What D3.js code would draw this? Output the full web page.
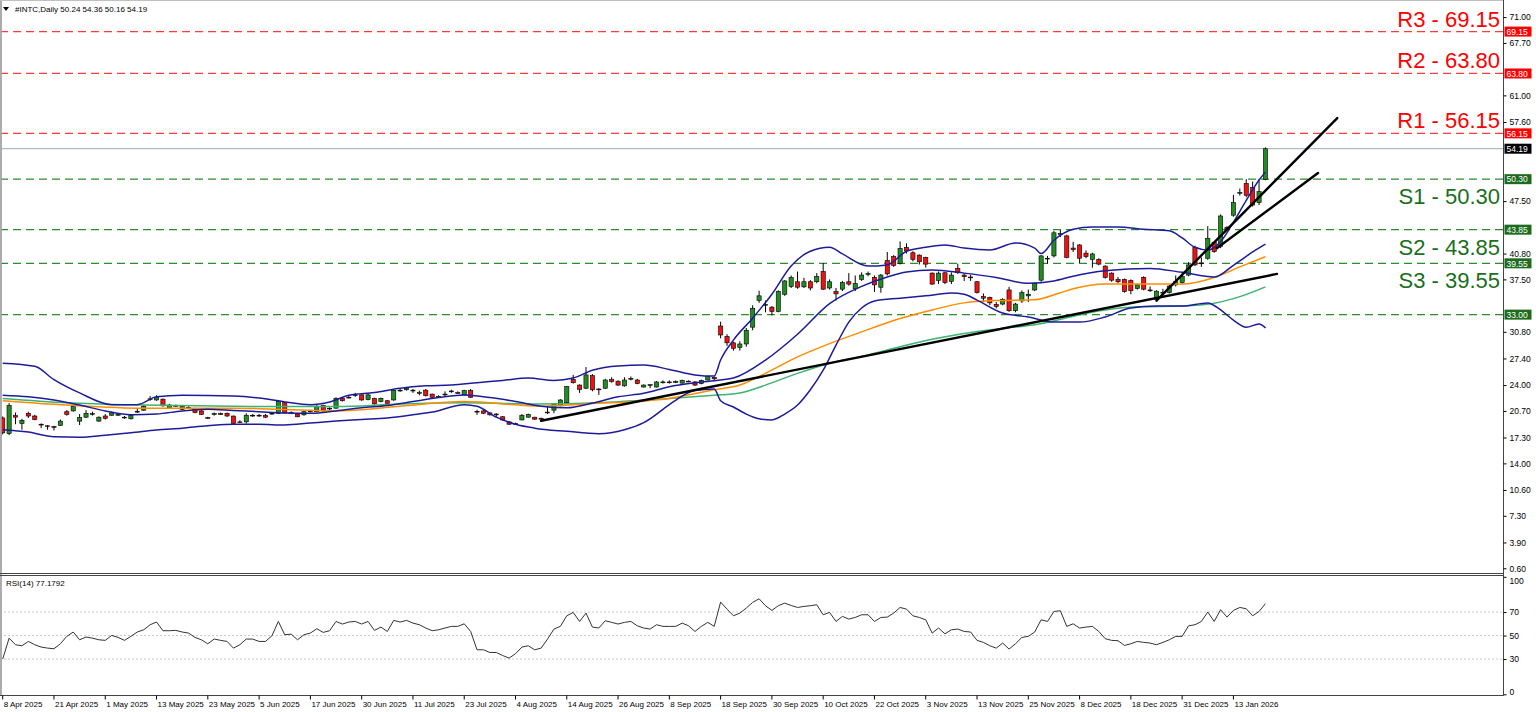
<!DOCTYPE html>
<html><head><meta charset="utf-8">
<script src="https://cdn.jsdelivr.net/npm/d3@7/dist/d3.min.js"></script>
<style>
body{margin:0;background:#fff;}
svg{display:block;}
text{font-family:"Liberation Sans",Arial,sans-serif;}
</style>
</head><body>
<svg id="chart" width="1536" height="712"></svg>
<script>
// ---------------- DATA ----------------
const symbolTitle = "#INTC,Daily";
const lastOHLC = [50.24, 54.36, 50.16, 54.19];
const rsiTitle = "RSI(14) 77.1792";

const xLabels = ["8 Apr 2025","21 Apr 2025","1 May 2025","13 May 2025","23 May 2025","5 Jun 2025","17 Jun 2025","30 Jun 2025","11 Jul 2025","23 Jul 2025","4 Aug 2025","14 Aug 2025","26 Aug 2025","8 Sep 2025","18 Sep 2025","30 Sep 2025","10 Oct 2025","22 Oct 2025","3 Nov 2025","13 Nov 2025","25 Nov 2025","8 Dec 2025","18 Dec 2025","31 Dec 2025","13 Jan 2026"];
const barsPerLabel = 8;

const opens = [19.8,17.8,20.1,19.1,20.4,20.05,19.0,18.8,18.7,18.85,20.6,20.7,19.4,19.9,20.3,19.4,20.05,20.15,20.2,19.85,
19.7,20.6,20.8,22.2,22.1,22.2,21.05,21.4,20.9,21.15,21.0,20.7,19.85,20.3,20.35,20.4,20.05,19.3,19.3,20.1,
20.15,20.15,20.3,20.4,21.75,20.5,20.3,20.2,20.6,20.6,21.4,21.0,21.05,22.3,22.45,22.7,22.75,22.15,22.3,21.9,
22.0,22.1,23.3,23.4,23.3,23.0,23.35,22.85,22.5,22.8,23.2,23.05,22.75,23.3,20.65,20.7,20.45,20.3,19.95,19.3,
19.05,19.55,19.9,19.9,19.75,20.5,20.8,21.35,21.75,24.7,24.0,23.6,25.2,23.5,23.6,24.7,24.5,23.9,24.75,24.65,
23.75,24.0,23.75,24.35,24.4,24.4,24.25,24.5,24.4,24.2,24.65,25.0,31.55,30.2,29.4,28.8,29.25,31.4,34.8,34.2,
33.95,33.4,35.6,36.6,37.2,36.55,37.2,37.2,38.5,36.4,35.95,36.25,37.2,36.3,37.5,38.2,37.75,36.5,39.9,40.4,
39.55,41.6,40.9,40.6,40.3,38.3,37.35,38.35,37.25,38.9,38.05,37.8,37.2,35.3,35.2,34.3,34.35,36.15,33.5,34.75,
35.4,36.15,37.4,40.1,40.5,43.3,43.05,41.5,41.9,40.85,40.05,40.05,39.2,38.3,37.5,37.5,37.35,36.35,37.75,36.15,
34.95,35.8,35.8,36.8,37.1,38.05,41.6,39.5,40.2,42.2,41.7,44.15,45.7,48.5,49.75,49.25,47.3,50.24];
const highs = [20.0,21.7,20.5,19.7,20.6,20.2,19.1,18.9,18.8,19.6,20.8,21.4,20.3,20.8,20.6,20.0,20.3,20.6,20.35,20.05,
20.2,21.05,21.45,22.6,22.7,22.3,21.6,21.5,21.4,21.3,21.1,20.8,19.95,20.5,20.5,20.5,20.1,19.5,20.4,20.3,
20.3,20.3,20.5,22.0,21.85,20.65,20.4,20.7,20.85,21.45,21.5,21.15,22.45,22.45,22.6,23.0,22.85,22.9,22.4,22.4,
22.1,23.4,23.5,23.7,23.5,23.3,23.5,22.9,22.7,23.2,23.4,23.2,23.4,23.5,20.85,20.8,20.5,20.4,20.05,19.4,
19.2,20.3,20.35,19.95,19.85,21.2,21.6,22.2,23.9,25.3,24.1,26.3,25.4,23.6,24.8,25.0,24.6,25.0,25.1,24.8,
24.1,24.1,24.5,24.6,24.6,24.6,24.7,24.6,24.5,24.7,25.2,25.1,32.1,30.5,29.55,29.6,31.3,34.2,36.05,34.8,
34.1,36.1,37.4,38.0,38.5,37.7,37.4,38.3,39.6,37.5,36.4,37.3,38.3,38.0,38.4,38.5,38.0,38.2,41.0,40.6,
42.35,42.1,41.1,40.7,40.4,38.4,38.5,38.4,38.4,39.5,38.3,38.1,37.3,35.7,35.3,34.6,35.1,36.55,34.5,36.1,
36.2,37.1,40.6,40.5,43.7,43.8,43.2,42.3,42.0,41.2,40.9,40.2,39.3,38.4,37.8,37.6,37.5,36.9,37.9,36.6,
36.1,36.3,36.8,38.0,38.2,39.7,41.8,40.3,44.3,42.3,45.8,44.3,48.3,49.1,50.3,50.0,50.3,54.36];
const lows = [17.7,17.6,19.0,18.3,19.8,19.5,18.5,18.3,18.2,18.8,20.1,20.6,18.9,19.8,20.1,19.3,19.6,20.1,20.1,19.7,
19.6,20.45,20.7,22.0,22.0,21.25,20.95,21.2,20.8,21.0,20.4,20.2,19.7,20.1,20.2,19.95,19.0,19.2,19.1,19.95,
19.95,19.8,20.2,20.3,20.4,20.3,19.9,20.1,20.5,20.5,20.6,20.75,21.0,21.9,22.3,22.5,22.0,22.05,21.5,21.8,
21.55,22.0,23.15,23.3,23.0,22.7,22.55,22.35,22.4,22.6,23.0,22.9,22.7,22.35,20.2,20.3,20.1,19.9,19.45,18.95,
18.95,19.5,19.85,19.55,19.3,20.3,20.4,21.3,21.7,24.2,23.0,23.5,23.2,22.75,23.5,24.3,23.9,23.8,24.6,24.1,
23.7,23.6,23.7,24.2,24.2,24.25,24.2,24.4,23.9,24.1,24.6,24.65,29.97,29.0,28.4,28.4,28.9,31.0,34.5,33.3,
32.9,33.3,35.4,36.4,36.3,36.4,36.1,37.0,36.15,36.2,34.8,36.0,36.7,36.0,37.3,37.9,35.9,35.8,38.0,39.1,
39.4,40.8,39.8,39.4,39.0,36.8,36.9,36.9,36.9,38.2,37.3,37.3,35.7,34.6,34.2,33.8,34.2,33.35,33.3,34.5,
34.6,36.0,37.2,39.5,40.3,42.9,40.2,41.0,39.6,40.2,39.0,39.3,37.6,37.2,37.0,35.8,35.6,36.2,36.1,35.9,
34.9,35.5,35.7,36.6,36.9,37.9,39.2,39.1,40.0,40.9,41.5,43.8,45.5,48.2,48.0,46.8,47.0,50.16];
const closes = [17.9,21.4,19.9,19.5,20.05,19.6,18.9,18.7,18.6,19.4,20.25,21.25,19.85,20.4,20.35,19.9,19.75,20.45,20.25,19.9,
20.15,20.65,21.3,22.25,22.45,21.35,21.45,21.35,21.3,21.1,20.5,20.25,19.8,20.35,20.3,20.05,19.1,19.25,20.15,20.15,
20.1,19.9,20.4,21.9,20.45,20.45,19.95,20.6,20.7,21.3,20.7,21.05,22.3,22.0,22.4,22.75,22.1,22.75,21.6,22.3,
21.65,23.3,23.35,23.6,23.35,23.05,22.65,22.45,22.55,22.85,23.25,23.0,23.3,22.45,20.6,20.4,20.2,20.25,19.55,19.0,
19.1,20.15,20.25,19.65,19.7,20.55,21.6,22.1,23.8,24.3,23.45,25.3,23.4,23.45,24.65,24.45,24.0,24.65,24.85,24.2,
24.0,24.05,24.4,24.4,24.35,24.45,24.6,24.45,24.0,24.6,25.1,24.8,30.4,29.4,28.7,29.25,31.0,33.8,35.4,34.3,
33.4,35.95,37.3,37.75,36.5,37.2,36.4,37.85,36.25,37.2,35.65,37.1,36.9,36.95,38.05,38.25,36.8,38.05,38.2,39.3,
41.45,41.15,40.05,39.75,39.45,36.9,38.3,37.1,38.05,38.35,37.85,37.75,35.8,35.1,34.5,34.05,34.95,33.5,34.35,35.8,
35.6,37.0,40.5,40.2,43.45,43.35,40.3,41.3,40.2,40.4,40.75,39.45,37.75,37.4,37.2,35.95,36.05,36.8,36.25,36.1,
36.0,35.85,36.65,37.2,37.9,39.35,39.35,39.6,42.75,41.05,45.6,43.9,47.3,48.6,48.25,47.0,48.7,54.19];

const rsiValues = [30.0,47.8,42.2,41.3,45.0,42.2,40.2,39.3,38.8,43.0,49.3,53.0,46.4,48.7,47.8,46.4,45.9,50.1,48.4,45.9,
49.3,53.0,54.9,59.2,61.5,54.1,54.1,54.4,53.0,52.1,48.4,46.4,43.0,47.0,45.9,45.0,39.3,42.2,47.0,47.0,
45.0,45.0,49.8,62.0,50.7,51.2,46.4,50.7,52.1,55.8,52.7,54.1,62.0,59.8,61.5,62.0,59.8,62.0,54.4,57.2,
53.5,62.9,61.5,62.9,60.6,59.2,56.4,54.1,54.9,56.4,57.8,57.8,60.0,53.5,37.9,37.9,35.6,35.6,33.0,30.8,
34.5,40.2,41.3,37.9,39.3,47.0,55.5,57.8,66.8,69.7,62.0,69.1,57.2,56.4,62.6,61.2,59.8,61.2,62.0,58.3,
56.4,55.5,59.2,57.8,57.8,57.8,60.6,58.3,53.5,57.8,61.2,57.8,78.5,72.5,66.8,69.1,73.4,78.2,81.3,75.4,
71.4,75.4,77.6,75.6,73.9,74.8,75.4,76.2,67.7,69.7,62.0,66.3,64.0,65.4,67.7,67.7,62.0,65.4,65.7,69.1,
73.9,72.5,66.8,65.4,63.4,52.1,56.4,51.5,54.9,55.5,53.5,53.0,45.9,44.2,41.3,39.3,43.6,38.5,43.0,48.4,
49.3,53.0,63.4,62.0,70.5,71.1,57.8,60.0,56.4,57.2,57.8,53.5,47.3,45.9,45.6,41.6,43.0,45.0,44.2,43.6,
42.2,44.2,46.4,49.3,49.3,58.3,59.2,62.0,70.0,62.0,72.0,65.7,71.4,73.9,72.8,66.8,70.5,77.18];

// indicator readings: [bar index, price]
const bbUpper = [[0,26.8],[5,26.4],[8,24.7],[12,23.0],[17,21.5],[21,21.5],[24,22.5],[28,22.7],[36,22.6],[40,22.35],[44,21.85],[48,21.5],[51,21.85],[54,22.7],[58,23.05],[62,23.6],[66,23.9],[70,24.0],[74,24.3],[78,24.6],[82,24.9],[86,24.6],[89,24.9],[92,25.9],[96,26.45],[100,26.55],[104,26.0],[108,25.3],[111,25.15],[112,27.2],[114,29.75],[117,32.55],[120,35.6],[123,39.2],[126,41.1],[129,41.6],[131,40.75],[135,39.2],[138,39.35],[141,41.1],[144,41.6],[147,41.9],[150,41.5],[154,41.25],[158,42.15],[161,41.5],[162,40.8],[164,42.5],[167,43.9],[170,44.2],[174,44.2],[178,43.9],[182,43.7],[184,42.8],[186,41.6],[188,41.25],[190,42.3],[192,44.8],[194,47.6],[196,50.2],[197,51.2]];
const bbMiddle = [[0,22.7],[4,22.5],[8,22.1],[12,21.45],[16,20.7],[20,20.2],[24,20.3],[28,20.7],[32,20.9],[36,20.75],[40,20.6],[44,20.45],[48,20.4],[52,20.7],[56,21.1],[60,21.4],[64,21.9],[68,22.4],[72,22.75],[76,22.4],[80,21.9],[84,21.3],[88,21.1],[92,21.7],[96,22.5],[100,22.95],[104,23.8],[108,24.3],[112,24.65],[114,24.9],[119,27.2],[124,30.5],[129,34.4],[134,36.6],[138,37.8],[141,38.45],[145,38.7],[150,38.3],[155,37.75],[160,37.0],[164,37.3],[167,37.9],[172,38.6],[179,38.9],[184,38.4],[189,37.8],[192,39.3],[195,41.0],[197,42.0]];
const bbLower = [[0,18.3],[4,18.0],[8,17.4],[12,17.35],[16,17.6],[20,17.9],[24,18.25],[28,18.5],[32,18.8],[36,19.0],[40,19.0],[44,18.9],[48,19.15],[52,19.4],[56,19.6],[60,19.8],[64,20.2],[67,20.55],[72,21.5],[74,21.3],[77,19.9],[80,19.0],[83,18.5],[88,18.1],[93,17.8],[97,18.3],[100,19.2],[104,21.5],[106,22.6],[108,23.3],[111,23.5],[112,22.0],[114,21.2],[116,20.3],[118,19.7],[120,19.55],[122,20.3],[124,21.45],[126,23.4],[128,25.9],[130,29.1],[132,32.05],[134,33.85],[136,34.75],[140,35.1],[144,35.4],[148,35.75],[150,35.6],[152,34.85],[156,33.2],[160,32.7],[164,32.05],[168,32.05],[172,32.7],[176,33.85],[180,34.1],[184,34.1],[188,34.5],[190,33.6],[192,32.3],[194,31.4],[196,31.8],[197,31.3]];
const maOrange = [[0,22.0],[10,21.45],[22,21.05],[36,21.05],[52,20.7],[62,21.3],[72,21.9],[84,21.3],[91,21.6],[104,22.3],[111,23.4],[115,24.0],[119,25.5],[124,27.6],[129,29.3],[134,30.8],[140,32.5],[145,33.6],[150,34.5],[155,34.8],[161,34.9],[165,35.8],[167,36.3],[172,36.9],[178,36.9],[184,36.9],[189,37.75],[193,39.1],[197,40.4]];
const maGreen = [[0,22.3],[10,21.75],[22,21.45],[36,21.3],[44,21.25],[52,21.25],[62,21.6],[72,21.75],[83,21.6],[93,21.75],[104,22.3],[111,22.7],[115,23.0],[119,24.0],[124,25.5],[129,26.8],[135,27.85],[140,28.9],[145,29.85],[150,30.6],[156,31.25],[161,31.7],[165,32.4],[167,32.8],[172,33.6],[177,34.0],[184,34.1],[189,34.45],[193,35.3],[197,36.55]];

const trendLines = [
  [[84,19.45],[198.8,38.2]],
  [[180.0,34.78],[208.2,58.1]],
  [[189.4,41.47],[205.2,51.09]]
];

const resistances = [{name:"R3",value:69.15},{name:"R2",value:63.80},{name:"R1",value:56.15}];
const supports = [{name:"S1",value:50.30},{name:"S2",value:43.85},{name:"S3",value:39.55}];
const extraSupport = [33.00];
const currentPrice = 54.19;

const priceTicks = [0.60,3.90,7.30,10.60,14.00,17.30,20.70,24.00,27.40,30.80,34.10,37.50,40.80,44.10,47.50,50.90,54.20,57.60,61.00,64.30,67.70,71.00];
const rsiTicks = [100,70,50,30,0];
const rsiLevels = [70,50,30];

// ---------------- LAYOUT ----------------
const svg = d3.select("#chart");
const n = closes.length;
const AX = 1503.5;                 // right axis x
const MAIN_TOP = 3, MAIN_BOT = 573;
const RSI_TOP = 576.8, RSI_BOT = 694.3;
const x = d3.scaleLinear().domain([0, n-1]).range([2.7, 2.7 + 6.41*(n-1)]);
const y = d3.scaleLinear().domain([0, 72.8]).range([MAIN_BOT, MAIN_TOP]);
const yr = d3.scaleLinear().domain([0, 100]).range([RSI_BOT, RSI_TOP]);

const RED = "#ff0000", GREEN_TXT = "#1a6f1a", GREEN_LINE = "#2e8b2e", NAVY = "#1c1c9a";

const defs = svg.append("defs");
defs.append("clipPath").attr("id","clipMain").append("rect").attr("x",1.5).attr("y",1).attr("width",AX-1.5).attr("height",MAIN_BOT-1);
defs.append("clipPath").attr("id","clipRsi").append("rect").attr("x",1.5).attr("y",576).attr("width",AX-1.5).attr("height",119);

const gMain = svg.append("g").attr("clip-path","url(#clipMain)");
const gRsi = svg.append("g").attr("clip-path","url(#clipRsi)");

// horizontal levels
resistances.forEach(r=>{
  gMain.append("line").attr("x1",0).attr("x2",AX).attr("y1",y(r.value)).attr("y2",y(r.value))
    .attr("stroke","#ff3b3b").attr("stroke-width",1.2).attr("stroke-dasharray","8,5");
});
supports.map(s=>s.value).concat(extraSupport).forEach(v=>{
  gMain.append("line").attr("x1",0).attr("x2",AX).attr("y1",y(v)).attr("y2",y(v))
    .attr("stroke",GREEN_LINE).attr("stroke-width",1.2).attr("stroke-dasharray","8,5");
});
gMain.append("line").attr("x1",0).attr("x2",AX).attr("y1",y(currentPrice)).attr("y2",y(currentPrice))
  .attr("stroke","#9ea8b8").attr("stroke-width",1);

// candles
const candles = gMain.append("g");
d3.range(n).forEach(i=>{
  const o=opens[i], h=highs[i], l=lows[i], c=closes[i];
  const cx = x(i);
  candles.append("line").attr("x1",cx).attr("x2",cx).attr("y1",y(h)).attr("y2",y(l))
    .attr("stroke","#000").attr("stroke-width",1);
  const top = y(Math.max(o,c)), bot = y(Math.min(o,c));
  const hgt = Math.max(bot-top, 0.8);
  candles.append("rect").attr("x",cx-2.1).attr("y",top).attr("width",4.2).attr("height",hgt)
    .attr("fill", c>=o ? "#218c21" : "#ee1111").attr("stroke","#000").attr("stroke-width",0.6);
});

// indicators
const ln = d3.line().x(d=>x(d[0])).y(d=>y(d[1])).curve(d3.curveMonotoneX);
[[maGreen,"#3cb371"],[maOrange,"#ff8c00"],[bbLower,NAVY],[bbMiddle,NAVY],[bbUpper,NAVY]].forEach(([data,col])=>{
  gMain.append("path").datum(data).attr("d",ln).attr("fill","none").attr("stroke",col).attr("stroke-width",1.5);
});

// trendlines
trendLines.forEach(t=>{
  gMain.append("line").attr("x1",x(t[0][0])).attr("y1",y(t[0][1])).attr("x2",x(t[1][0])).attr("y2",y(t[1][1]))
    .attr("stroke","#000").attr("stroke-width",2.4).attr("stroke-linecap","round");
});

// level texts
resistances.forEach(r=>{
  svg.append("text").attr("x",1500).attr("y",y(r.value)-5).attr("text-anchor","end")
    .attr("font-size",22).attr("fill",RED).text(`${r.name} - ${r.value.toFixed(2)}`);
});
supports.forEach(s=>{
  svg.append("text").attr("x",1500).attr("y",y(s.value)+25).attr("text-anchor","end")
    .attr("font-size",22).attr("fill",GREEN_TXT).text(`${s.name} - ${s.value.toFixed(2)}`);
});

// RSI panel
rsiLevels.forEach(v=>{
  gRsi.append("line").attr("x1",0).attr("x2",AX).attr("y1",yr(v)).attr("y2",yr(v))
    .attr("stroke","#c8c8c8").attr("stroke-width",1).attr("stroke-dasharray","2,2");
});
gRsi.append("path").datum(rsiValues).attr("fill","none").attr("stroke","#333").attr("stroke-width",1)
  .attr("d", d3.line().x((d,i)=>x(i)).y(d=>yr(d)));
svg.append("text").attr("x",6).attr("y",586).attr("font-size",8).attr("fill","#000").text(rsiTitle);

// frames
svg.append("line").attr("x1",1).attr("x2",1).attr("y1",0).attr("y2",696).attr("stroke","#909090").attr("stroke-width",1.5);
svg.append("line").attr("x1",0).attr("x2",AX).attr("y1",0.5).attr("y2",0.5).attr("stroke","#c0c0c0");
svg.append("line").attr("x1",0).attr("x2",AX).attr("y1",573.5).attr("y2",573.5).attr("stroke","#444");
svg.append("line").attr("x1",0).attr("x2",AX).attr("y1",575.5).attr("y2",575.5).attr("stroke","#444");
svg.append("line").attr("x1",0).attr("x2",AX).attr("y1",695.5).attr("y2",695.5).attr("stroke","#444");
svg.append("line").attr("x1",AX).attr("x2",AX).attr("y1",0).attr("y2",695.5).attr("stroke","#444");

// price axis (labels hidden under a coloured price tag are left out)
const tagValues = resistances.map(r=>r.value).concat(supports.map(s=>s.value), extraSupport, [currentPrice]);
const visibleTicks = priceTicks.filter(t => !tagValues.some(v => Math.abs(y(t)-y(v)) < 9));
const pAxis = svg.append("g").attr("transform",`translate(${AX},0)`)
  .call(d3.axisRight(y).tickValues(visibleTicks).tickSize(3).tickPadding(3).tickFormat(d3.format(".2f")));
pAxis.select(".domain").remove();
pAxis.selectAll("text").attr("font-size",8.5).attr("fill","#000").attr("font-family","Liberation Sans, Arial");
pAxis.selectAll("line").attr("stroke","#000");

// RSI axis
const rAxis = svg.append("g").attr("transform",`translate(${AX},0)`)
  .call(d3.axisRight(yr).tickValues(rsiTicks).tickSize(3).tickPadding(3).tickFormat(d3.format("d")));
rAxis.select(".domain").remove();
rAxis.selectAll("text").attr("font-size",8.5).attr("fill","#000").attr("font-family","Liberation Sans, Arial")
  .attr("dy", d=> d===100 ? "0.75em" : d===0 ? "0" : "0.32em");
rAxis.selectAll("line").attr("stroke","#000");

// colored price tags on axis
function tag(v, bg){
  const g = svg.append("g");
  g.append("rect").attr("x",AX+1).attr("y",y(v)-5).attr("width",27).attr("height",10).attr("fill",bg);
  g.append("text").attr("x",AX+3).attr("y",y(v)+3.2).attr("font-size",8.5).attr("fill","#fff").text(v.toFixed(2));
}
resistances.forEach(r=>tag(r.value, "#ff0000"));
supports.forEach(s=>tag(s.value, "#1d6b1d"));
extraSupport.forEach(v=>tag(v, "#1d6b1d"));
tag(currentPrice, "#000");

// time axis
const xt = svg.append("g");
xLabels.forEach((lab,k)=>{
  const xi = x(k*barsPerLabel);
  xt.append("line").attr("x1",xi).attr("x2",xi).attr("y1",695.5).attr("y2",699.5).attr("stroke","#000");
  xt.append("text").attr("x",xi+1).attr("y",707).attr("font-size",8).attr("fill","#000").text(lab);
});

// header
svg.append("path").attr("d","M3,7 L9,7 L6,11 Z").attr("fill","#000");
svg.append("text").attr("x",15).attr("y",11.5).attr("font-size",8).attr("fill","#000")
  .text(`${symbolTitle}  ${lastOHLC.map(v=>v.toFixed(2)).join(" ")}`);
</script>
</body></html>
